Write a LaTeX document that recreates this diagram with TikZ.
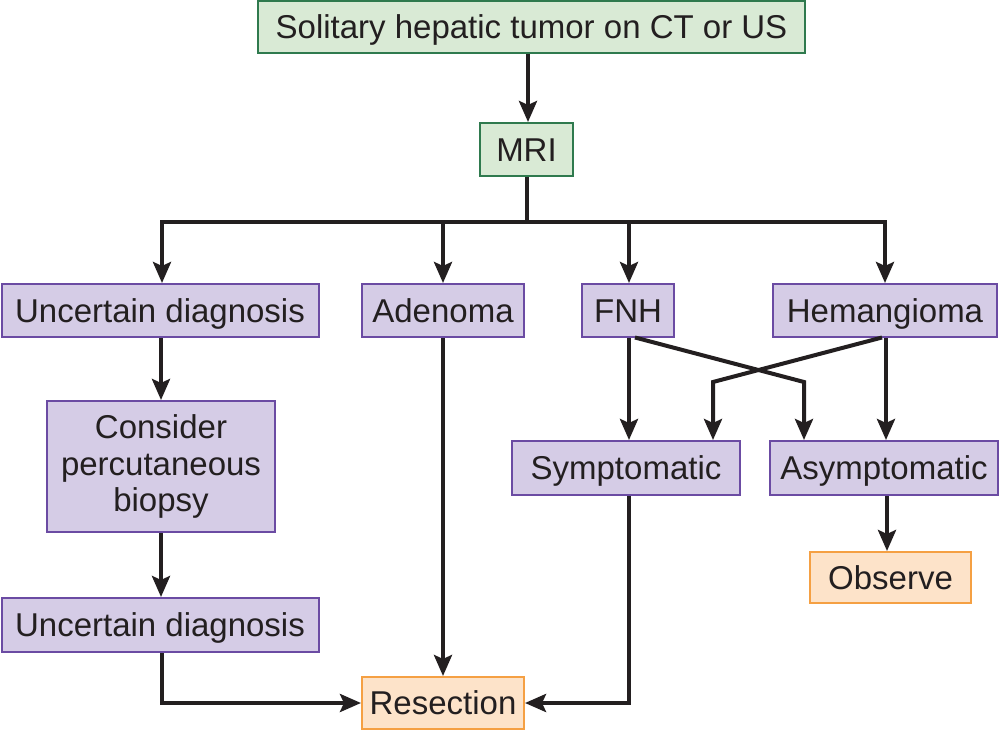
\documentclass[tikz,border=0pt]{standalone}
\usepackage{fontspec}
\setmainfont{Liberation Sans}
\usetikzlibrary{arrows.meta}
\definecolor{txt}{HTML}{231F20}
\definecolor{gfill}{HTML}{D9EAD5}
\definecolor{gdraw}{HTML}{2F7A4E}
\definecolor{pfill}{HTML}{D5CCE6}
\definecolor{pdraw}{HTML}{6B4BA3}
\definecolor{ofill}{HTML}{FDE3C9}
\definecolor{odraw}{HTML}{F5A043}
\begin{document}
\begin{tikzpicture}[x=1pt,y=-1pt,
  box/.style={draw, line width=2pt, inner sep=0pt, text=txt,
    font=\fontsize{33}{36.5}\selectfont, text height=23.8pt, text depth=0pt},
  gbox/.style={box, fill=gfill, draw=gdraw},
  pbox/.style={box, fill=pfill, draw=pdraw},
  obox/.style={box, fill=ofill, draw=odraw},
  arr/.style={line width=4pt, draw=txt, -{Stealth[length=21pt,width=18pt,inset=4pt]}},
  ln/.style={line width=4pt, draw=txt}]
\useasboundingbox (0,0) rectangle (999,730);

\node[gbox, minimum width=547pt, minimum height=52pt] (top) at (531.5,27) {Solitary hepatic tumor on CT or US};
\node[gbox, minimum width=93pt, minimum height=53pt] (mri) at (526.5,149.5) {MRI};

\node[pbox, minimum width=317pt, minimum height=53pt] (ud1) at (160,310.5) {Uncertain diagnosis};
\node[pbox, minimum width=162pt, minimum height=53pt] (aden) at (443,310.5) {Adenoma};
\node[pbox, minimum width=92pt, minimum height=53pt] (fnh) at (628,310.5) {FNH};
\node[pbox, minimum width=224pt, minimum height=53pt] (hem) at (885,310.5) {Hemangioma};

\node[pbox, minimum width=228pt, minimum height=131pt, align=center, text height=, text depth=] (cons) at (161,466.5) {Consider\\percutaneous\\biopsy};

\node[pbox, minimum width=228pt, minimum height=54pt] (sym) at (626,468) {Symptomatic};
\node[pbox, minimum width=228pt, minimum height=54pt] (asym) at (884,468) {Asymptomatic};
\node[obox, minimum width=161pt, minimum height=51pt] (obs) at (890.5,577.5) {Observe};

\node[pbox, minimum width=317pt, minimum height=54pt] (ud2) at (160,625) {Uncertain diagnosis};
\node[obox, minimum width=162pt, minimum height=52pt] (res) at (443,703) {Resection};

\coordinate (bus) at (0,222);
\coordinate (f1) at (635,337.5);
\coordinate (f2) at (804,382);
\coordinate (h1) at (882,337.5);
\coordinate (h2) at (713,382);

\draw[arr] ([xshift=1.5pt]mri.north |- top.south) -- ([xshift=1.5pt]mri.north);
\draw[arr] (mri.south) -- (mri.south |- bus) -| ([xshift=2pt]ud1.north);
\draw[arr] (mri.south |- bus) -| (hem.north);
\draw[arr] (aden.north |- bus) -- (aden.north);
\draw[arr] ([xshift=1pt]fnh.north |- bus) -- ([xshift=1pt]fnh.north);

\draw[arr] (cons.north |- ud1.south) -- (cons.north);
\draw[arr] (cons.south) -- (cons.south |- ud2.north);
\draw[arr] ([xshift=2pt]ud2.south) |- (res.west);
\draw[arr] (aden.south) -- (res.north);

\draw[arr] ([xshift=1pt]fnh.south) -- ([xshift=1pt]fnh.south |- sym.north);
\draw[arr] ([xshift=1pt]fnh.south |- sym.south) |- (res.east);
\draw[arr] (f1) -- (f2) -- (f2 |- asym.north);
\draw[arr] (h1) -- (h2) -- (h2 |- sym.north);
\draw[arr] ([xshift=1pt]hem.south) -- ([xshift=1pt]hem.south |- asym.north);
\draw[arr] ([xshift=3pt]asym.south) -- ([xshift=3pt]asym.south |- obs.north);
\end{tikzpicture}
\end{document}
